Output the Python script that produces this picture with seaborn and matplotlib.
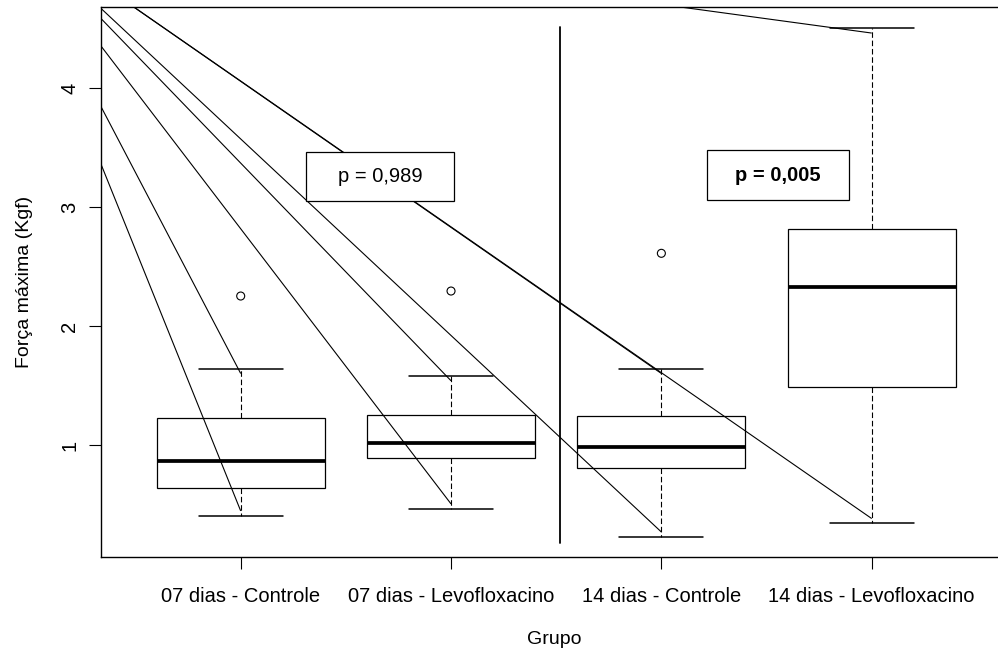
import numpy as np
import pandas as pd
import matplotlib
matplotlib.use("Agg")
import matplotlib.pyplot as plt
from matplotlib.patches import Rectangle
import seaborn as sns

# Groups and five-number summaries of the maximum force (Kgf)
GROUPS = ["07 dias - Controle", "07 dias - Levofloxacino",
          "14 dias - Controle", "14 dias - Levofloxacino"]
WHISKER_LOW = [0.406, 0.465, 0.229, 0.342]
Q1 = [0.641, 0.888, 0.807, 1.487]
MEDIAN = [0.868, 1.014, 0.981, 2.328]
Q3 = [1.227, 1.250, 1.246, 2.813]
WHISKER_HIGH = [1.641, 1.580, 1.641, 4.502]
OUTLIERS = [2.252, 2.294, 2.611, None]

Y_TICKS = [1, 2, 3, 4]
P_LABELS = ["p = 0,989", "p = 0,005"]
P_BOLD = [False, True]

# layout / style constants
W, H = 998, 650
AX_L, AX_R, AX_T, AX_B = 100.7, 998.0, 7.0, 557.3
XLIM = (-0.6656, 3.6005)
YLIM = (0.0563, 4.681)
ANCHOR = (-1.1425, 5.459)          # common start point of the guide lines
END_INSET = 0.04
SEPARATOR_X = 1.518
SEPARATOR_Y = (0.174, 4.51)
P_BOXES = [(0.310, 3.050, 0.703, 0.415), (2.217, 3.056, 0.677, 0.420)]
FS = 14
FS_TICK = 14.5

sns.set_theme(style="white")
plt.rcParams["font.family"] = ["Liberation Sans", "DejaVu Sans"]
plt.rcParams["lines.scale_dashes"] = False

fig = plt.figure(figsize=(W / 100, H / 100), dpi=100)
ax = fig.add_axes([AX_L / W, 1 - AX_B / H, (AX_R - AX_L) / W, (AX_B - AX_T) / H])

# long-form table: one row per summary value
df = pd.DataFrame({
    "Grupo": np.repeat(GROUPS, 5),
    "Forca": np.column_stack([WHISKER_LOW, Q1, MEDIAN, Q3, WHISKER_HIGH]).ravel(),
})

sns.boxplot(
    data=df, x="Grupo", y="Forca", order=GROUPS, ax=ax,
    color="white", saturation=1, linecolor="black", linewidth=0.9,
    width=0.8, whis=1.5, showfliers=False,
    whiskerprops=dict(linestyle=(0, (4.0, 2.0)), linewidth=0.8),
    capprops=dict(linewidth=1.1),
    medianprops=dict(linewidth=2.7),
    boxprops=dict(zorder=2),
)

# outliers
ox = [i for i, v in enumerate(OUTLIERS) if v is not None]
oy = [v for v in OUTLIERS if v is not None]
ax.scatter(ox, oy, s=33, facecolors="none", edgecolors="black",
           linewidths=0.8, zorder=3)

# guide lines from the common anchor to each whisker end
for i in range(len(GROUPS)):
    for end in (WHISKER_LOW[i] + END_INSET, WHISKER_HIGH[i] - END_INSET):
        ax.plot([ANCHOR[0], i], [ANCHOR[1], end], color="black", lw=0.8,
                zorder=3, solid_capstyle="butt")

# separator between the 7-day and 14-day groups
ax.plot([SEPARATOR_X, SEPARATOR_X], list(SEPARATOR_Y), color="black", lw=1.3,
        zorder=3)

# p-value boxes
for (x0, y0, w, h), lab, bold in zip(P_BOXES, P_LABELS, P_BOLD):
    ax.add_patch(Rectangle((x0, y0), w, h, facecolor="white", edgecolor="black",
                           lw=0.9, zorder=4))
    ax.text(x0 + w / 2, y0 + h / 2, lab, ha="center", va="center", fontsize=FS_TICK,
            fontweight="bold" if bold else "normal", color="black", zorder=5)

ax.set_xlim(*XLIM)
ax.set_ylim(*YLIM)
ax.set_xticks(range(len(GROUPS)))
ax.set_xticklabels(GROUPS)
ax.set_yticks(Y_TICKS)
ax.set_yticklabels([str(t) for t in Y_TICKS])

ax.tick_params(axis="both", bottom=True, left=True, direction="out",
               length=8.6, width=0.8, color="black", labelsize=FS_TICK,
               labelcolor="black")
ax.tick_params(axis="x", pad=12.5)
ax.tick_params(axis="y", pad=7, labelrotation=90)
for t in ax.get_yticklabels():
    t.set_va("center")

for side in ("left", "bottom", "top"):
    ax.spines[side].set_visible(True)
    ax.spines[side].set_color("black")
    ax.spines[side].set_linewidth(1.0)
ax.spines["right"].set_visible(False)

ax.set_xlabel("Grupo", fontsize=FS, color="black")
ax.set_ylabel("Força máxima (Kgf)", fontsize=FS, color="black")
ax.xaxis.set_label_coords(0.506, -0.1339)
ax.yaxis.set_label_coords(-0.0754, 0.5)
ax.grid(False)

fig.savefig("out.png", dpi=100, facecolor="white")
